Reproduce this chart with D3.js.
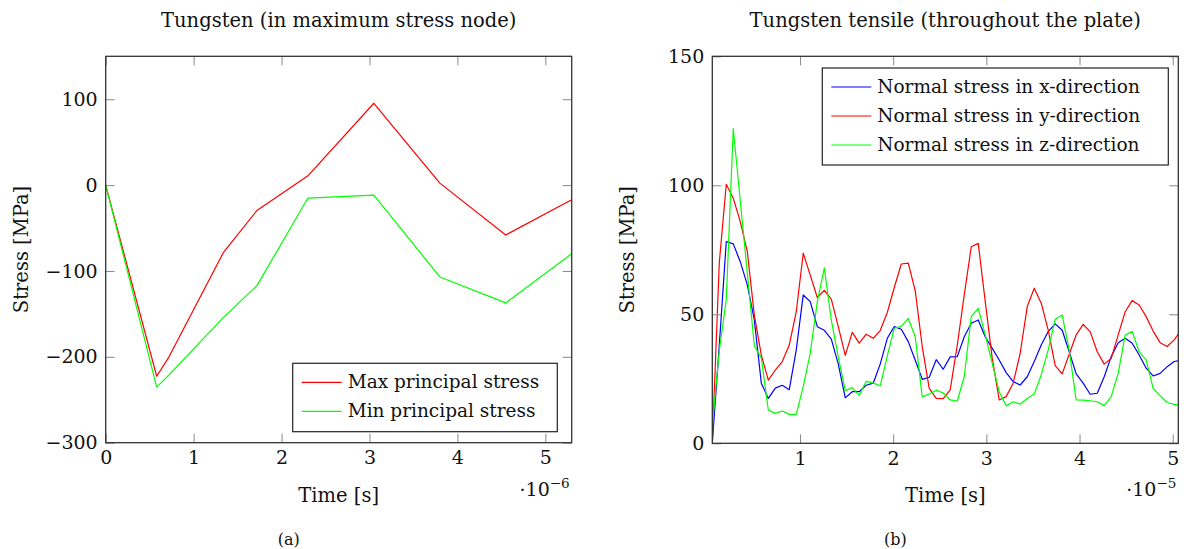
<!DOCTYPE html>
<html>
<head>
<meta charset="utf-8">
<script src="https://cdn.jsdelivr.net/npm/d3@7"></script>
<style>
  body { margin: 0; background: #fff; }
  svg text { font-family: "DejaVu Serif", "Liberation Serif", serif; fill: #111; }
</style>
</head>
<body>
<svg id="chart" width="1186" height="549"></svg>
<script>
// ---------- Panel (a): tungsten, maximum stress node (time in 1e-6 s, stress in MPa)
const nodeTime     = [0, 0.58, 0.72, 1.34, 1.72, 2.30, 3.05, 3.80, 4.55, 5.30];
const maxPrincipal = [0, -222.6, -200, -78.3, -29.5, 10.8, 95.3, 2.3, -58.1, -17.1];
const minPrincipal = [0, -235.3, -221, -154, -117.1, -15.1, -11.6, -107, -137.2, -79.9];
const nodeXTicks = [0, 1, 2, 3, 4, 5];
const nodeYTicks = [-300, -200, -100, 0, 100];
const nodeXLimits = [0, 5.3];
const nodeYLimits = [-300, 150];

// ---------- Panel (b): tungsten tensile, throughout the plate (time in 1e-5 s)
const plateTime = [0.059, 0.134, 0.209, 0.284, 0.359, 0.435, 0.510, 0.585, 0.660, 0.735,
  0.810, 0.885, 0.960, 1.035, 1.110, 1.186, 1.261, 1.336, 1.411, 1.486,
  1.561, 1.636, 1.711, 1.786, 1.861, 1.937, 2.012, 2.087, 2.162, 2.237,
  2.312, 2.387, 2.462, 2.537, 2.612, 2.688, 2.763, 2.838, 2.913, 2.988,
  3.063, 3.138, 3.213, 3.288, 3.363, 3.439, 3.514, 3.589, 3.664, 3.739,
  3.814, 3.889, 3.964, 4.039, 4.114, 4.190, 4.265, 4.340, 4.415, 4.490,
  4.565, 4.640, 4.715, 4.790, 4.865, 4.941, 5.016, 5.091];
const stressX = [0, 38, 78.2, 77.3, 70.4, 61.4, 47.8, 23.3, 17.4, 21.4,
  22.5, 20.8, 36.2, 57.5, 54.9, 45.2, 43.8, 40.4, 30.7, 17.6,
  20, 20, 22.5, 23.3, 30.7, 40.7, 45.2, 44.2, 39.4, 32.2,
  24.8, 25.6, 32.4, 28.7, 33.5, 33.6, 41.3, 46.5, 47.8, 41.3,
  36.8, 32.3, 27.4, 23.9, 22.6, 25.8, 31.7, 38.1, 43.3, 46.3,
  43.8, 35.5, 26.9, 23.3, 19, 19.4, 25.8, 33.6, 39, 40.7,
  38.8, 34.2, 29.1, 26.1, 27.1, 29.7, 31.7, 32.2];
const stressY = [0, 70, 100.4, 95, 85.9, 74.3, 49.7, 34.2, 24.5, 28.4,
  31.7, 38.1, 51, 73.7, 65.2, 56.5, 59.3, 55.9, 45.2, 34.1,
  43, 38.8, 42.3, 40.7, 43.7, 50.7, 60.4, 69.5, 69.8, 59.1,
  37.5, 21.3, 17.4, 17.3, 20.7, 38, 57.5, 76.2, 77.5, 55,
  33, 16.8, 18.1, 23.3, 34.9, 53, 60.1, 54.3, 43.9, 30.1,
  26.9, 34.5, 42, 46.1, 43.3, 35.5, 30.7, 32.9, 42, 51,
  55.3, 53.6, 49.1, 43.5, 39, 37.5, 40.1, 44];
const stressZ = [6.5, 36, 55.6, 122, 94, 66, 37.8, 33, 12.9, 11.6,
  12.5, 11.2, 11.2, 22, 34.9, 54.9, 68, 47.8, 33.5, 20.4,
  21.6, 18.6, 24, 23.3, 22.3, 33.9, 44.6, 45.3, 48.4, 41.3,
  18, 19.1, 20.6, 19.5, 16.8, 16.4, 25.8, 49.1, 52.3, 42,
  31, 20, 14.5, 16.1, 15.2, 17.4, 19.1, 26.5, 36.2, 48.1,
  49.7, 36, 16.8, 16.7, 16.5, 16.1, 14.6, 18.1, 27.1, 42,
  43.3, 35.5, 32.3, 21.3, 18.5, 15.8, 15.1, 14.7];
const plateXTicks = [1, 2, 3, 4, 5];
const plateYTicks = [0, 50, 100, 150];
const plateXLimits = [0.059, 5.06];
const plateYLimits = [0, 150];

const svg = d3.select("#chart");
const fmt = v => (v < 0 ? "\u2212" + Math.abs(v) : String(v));

function panel(cfg) {
  const { box, xLim, yLim, xTicks, yTicks, series, title, exponent, caption, legend, id } = cfg;
  const x = d3.scaleLinear().domain(xLim).range([box.left, box.right]);
  const y = d3.scaleLinear().domain(yLim).range([box.bottom, box.top]);
  const g = svg.append("g");

  g.append("clipPath").attr("id", id)
    .append("rect").attr("x", box.left).attr("y", box.top)
    .attr("width", box.right - box.left).attr("height", box.bottom - box.top);

  // data lines
  const line = d3.line().x(d => x(d[0])).y(d => y(d[1]));
  series.forEach(s => {
    g.append("path")
      .datum(s.t.map((t, i) => [t, s.v[i]]))
      .attr("clip-path", `url(#${id})`)
      .attr("fill", "none").attr("stroke", s.color)
      .attr("stroke-width", 1.2).attr("stroke-linejoin", "round")
      .attr("d", line);
  });

  // axes with inward ticks on all four sides
  const tk = 9;
  const axB = g.append("g").attr("transform", `translate(0,${box.bottom})`)
    .call(d3.axisBottom(x).tickValues(xTicks).tickFormat(fmt).tickSizeInner(-tk).tickSizeOuter(0).tickPadding(8));
  const axT = g.append("g").attr("transform", `translate(0,${box.top})`)
    .call(d3.axisTop(x).tickValues(xTicks).tickFormat("").tickSizeInner(-tk).tickSizeOuter(0));
  const axL = g.append("g").attr("transform", `translate(${box.left},0)`)
    .call(d3.axisLeft(y).tickValues(yTicks).tickFormat(fmt).tickSizeInner(-tk).tickSizeOuter(0).tickPadding(8));
  const axR = g.append("g").attr("transform", `translate(${box.right},0)`)
    .call(d3.axisRight(y).tickValues(yTicks).tickFormat("").tickSizeInner(-tk).tickSizeOuter(0));
  [axB, axT, axL, axR].forEach(a => {
    a.select(".domain").remove();
    a.selectAll(".tick line").attr("stroke", "#888").attr("stroke-width", 1);
    a.selectAll("text").attr("font-size", 19).attr("font-family", null).attr("fill", "#111");
  });

  // frame
  g.append("rect").attr("x", box.left).attr("y", box.top)
    .attr("width", box.right - box.left).attr("height", box.bottom - box.top)
    .attr("fill", "none").attr("stroke", "#333").attr("stroke-width", 1.3);

  const cx = (box.left + box.right) / 2;
  g.append("text").attr("x", cx).attr("y", 27).attr("text-anchor", "middle")
    .attr("font-size", 19.5).text(title);
  g.append("text").attr("x", cx).attr("y", 502).attr("text-anchor", "middle")
    .attr("font-size", 19.5).text("Time [s]");
  g.append("text").attr("transform", `translate(${box.left - 78},${(box.top + box.bottom) / 2}) rotate(-90)`)
    .attr("text-anchor", "middle").attr("font-size", 19.5).text("Stress [MPa]");
  const ex = g.append("text").attr("x", box.right - 2).attr("y", 496).attr("text-anchor", "end").attr("font-size", 19);
  ex.append("tspan").text("\u00b710");
  ex.append("tspan").attr("dy", -8).attr("font-size", 13.5).text(exponent);
  g.append("text").attr("x", cx - 50).attr("y", 545).attr("text-anchor", "middle")
    .attr("font-size", 16).text(caption);

  // legend
  const lg = g.append("g");
  lg.append("rect").attr("x", legend.x).attr("y", legend.y).attr("width", legend.w).attr("height", legend.h)
    .attr("fill", "#fff").attr("stroke", "#222").attr("stroke-width", 1.2);
  series.forEach((s, i) => {
    const yy = legend.y + 19 + i * 29;
    lg.append("line").attr("x1", legend.x + 9).attr("x2", legend.x + 49)
      .attr("y1", yy).attr("y2", yy).attr("stroke", s.color).attr("stroke-width", 1.2);
    lg.append("text").attr("x", legend.x + 55).attr("y", yy + 6).attr("font-size", 18.5).text(s.name);
  });
}

panel({
  id: "clipA",
  box: { left: 105.7, right: 571.7, top: 56.3, bottom: 442.7 },
  xLim: nodeXLimits, yLim: nodeYLimits, xTicks: nodeXTicks, yTicks: nodeYTicks,
  title: "Tungsten (in maximum stress node)", exponent: "\u22126", caption: "(a)",
  legend: { x: 292.7, y: 363.3, w: 264.6, h: 68.4 },
  series: [
    { name: "Max principal stress", color: "#ff0000", t: nodeTime, v: maxPrincipal },
    { name: "Min principal stress", color: "#00ff00", t: nodeTime, v: minPrincipal }
  ]
});

panel({
  id: "clipB",
  box: { left: 712.3, right: 1178.3, top: 56.3, bottom: 443.3 },
  xLim: plateXLimits, yLim: plateYLimits, xTicks: plateXTicks, yTicks: plateYTicks,
  title: "Tungsten tensile (throughout the plate)", exponent: "\u22125", caption: "(b)",
  legend: { x: 822.3, y: 68, w: 346, h: 97 },
  series: [
    { name: "Normal stress in x-direction", color: "#0000ff", t: plateTime, v: stressX },
    { name: "Normal stress in y-direction", color: "#ff0000", t: plateTime, v: stressY },
    { name: "Normal stress in z-direction", color: "#00ff00", t: plateTime, v: stressZ }
  ]
});
</script>
</body>
</html>
